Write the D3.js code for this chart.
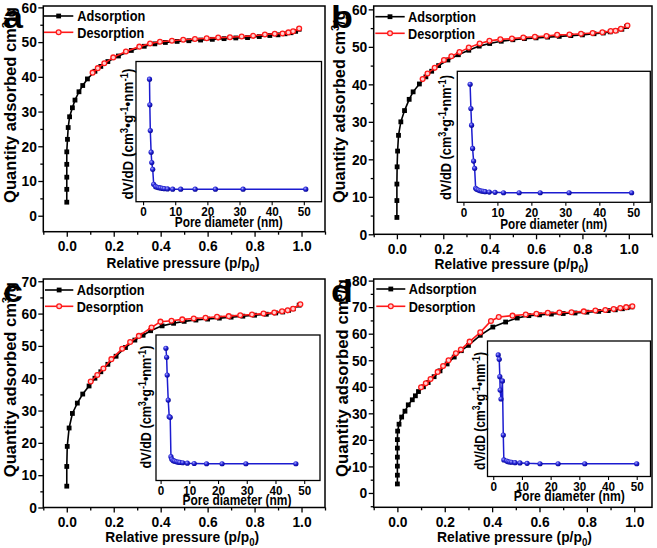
<!DOCTYPE html>
<html><head><meta charset="utf-8">
<script src="https://cdn.jsdelivr.net/npm/d3@7"></script>
<style>
body{margin:0;background:#fff}
svg{display:block}
text{font-family:"Liberation Sans",Arial,sans-serif;font-weight:bold;fill:#000}
</style>
</head><body>
<svg id="chart" width="657" height="548"></svg>
<script>
// ---------------- DATA ----------------
// Panel a
const adsA_p = [0,0,0,0,0,0.003,0.006,0.012,0.024,0.035,0.052,0.068,0.088,0.12,0.145,0.175,0.22,0.275,0.33,0.375,0.42,0.47,0.52,0.57,0.62,0.67,0.72,0.77,0.82,0.865,0.9,0.93,0.955,0.975,0.99];
const adsA_q = [3.9,7.6,11.1,14.8,18.4,22.0,25.4,28.5,31.1,33.3,35.7,37.5,39.4,41.6,43.0,44.4,46.0,47.6,48.8,49.5,49.9,50.2,50.4,50.6,50.8,51.0,51.2,51.3,51.6,51.9,52.1,52.4,52.7,53.1,53.7];
const desA_p = [0.11,0.132,0.16,0.198,0.252,0.309,0.355,0.397,0.448,0.496,0.546,0.596,0.645,0.695,0.745,0.794,0.844,0.886,0.919,0.944,0.964,0.99];
const desA_q = [41.2,42.5,43.9,45.6,47.3,48.7,49.6,50.1,50.4,50.7,50.9,51.1,51.3,51.4,51.6,51.8,52.2,52.4,52.5,52.8,53.1,53.9];
const psdA_d = [2.0,2.1,2.25,2.5,2.7,3.0,3.3,3.9,4.4,4.9,5.4,6.0,6.6,7.6,9.2,11.7,16.2,22.5,31.1,50.6];
const psdA_v = [0.874,0.691,0.507,0.353,0.279,0.231,0.124,0.107,0.103,0.100,0.098,0.095,0.093,0.091,0.089,0.089,0.089,0.089,0.089,0.089];
// Panel b
const adsB_p = [0,0,0,0.001,0.003,0.007,0.017,0.033,0.053,0.07,0.097,0.125,0.15,0.18,0.22,0.265,0.31,0.355,0.4,0.45,0.5,0.55,0.6,0.65,0.7,0.75,0.8,0.85,0.89,0.92,0.945,0.97,0.99];
const adsB_q = [4.5,9.0,13.4,18.0,22.2,26.4,30.0,33.0,36.0,38.0,40.1,42.0,43.5,45.0,46.5,47.9,49.1,50.2,50.9,51.5,51.9,52.2,52.4,52.6,52.8,53.0,53.2,53.5,53.7,54.0,54.3,54.7,55.4];
const desB_p = [0.111,0.132,0.163,0.203,0.235,0.27,0.31,0.357,0.399,0.446,0.496,0.545,0.595,0.645,0.691,0.744,0.794,0.844,0.886,0.922,0.943,0.966,0.994];
const desB_q = [41.4,42.9,44.4,46.5,47.5,48.6,49.8,50.9,51.6,52.0,52.2,52.5,52.7,52.9,53.2,53.3,53.5,53.7,53.9,54.2,54.3,54.8,55.7];
const psdB_d = [1.97,2.2,2.4,2.7,3.0,3.3,3.6,3.9,4.4,4.9,5.4,5.9,6.4,7.6,9.3,11.8,16.4,22.6,31.1,49.5];
const psdB_v = [0.901,0.716,0.589,0.411,0.315,0.259,0.107,0.099,0.094,0.088,0.086,0.084,0.081,0.078,0.076,0.073,0.073,0.073,0.073,0.073];
// Panel c
const adsC_p = [0,0,0.002,0.01,0.024,0.045,0.068,0.095,0.12,0.145,0.175,0.21,0.25,0.29,0.325,0.357,0.406,0.455,0.5,0.55,0.6,0.65,0.7,0.75,0.8,0.85,0.89,0.92,0.945,0.965,0.99];
const adsC_q = [6.6,12.7,18.9,24.6,29.1,32.3,35.1,37.6,40.0,42.0,44.3,46.8,49.5,51.8,53.3,54.7,56.2,57.0,57.6,58.0,58.3,58.6,58.9,59.2,59.5,59.8,60.2,60.5,61.0,61.5,62.6];
const desC_p = [0.102,0.13,0.156,0.19,0.236,0.27,0.307,0.361,0.399,0.446,0.492,0.541,0.591,0.64,0.69,0.739,0.789,0.838,0.884,0.917,0.941,0.964,0.995];
const desC_q = [39.0,41.0,43.0,45.9,49.1,51.2,53.1,55.7,57.5,57.8,58.2,58.5,58.7,59.0,59.2,59.5,59.7,60.0,60.3,60.7,61.0,61.5,62.9];
const psdC_d = [1.85,2.1,2.3,2.65,3.0,3.35,3.6,3.9,4.4,4.9,5.5,6.1,6.7,7.7,9.3,11.7,16.0,21.4,29.7,47.1];
const psdC_v = [0.909,0.847,0.725,0.553,0.439,0.434,0.164,0.146,0.136,0.133,0.129,0.126,0.124,0.122,0.119,0.117,0.115,0.115,0.115,0.115];
// Panel d
const adsD_p = [0,0,0,0,0,0,0.001,0.007,0.018,0.032,0.046,0.063,0.076,0.089,0.11,0.13,0.155,0.18,0.21,0.24,0.27,0.3,0.35,0.403,0.457,0.506,0.555,0.6,0.65,0.7,0.75,0.8,0.85,0.89,0.92,0.95,0.97,0.99];
const adsD_q = [3.4,6.7,10.1,13.5,16.9,20.1,23.3,25.9,28.6,30.8,33.2,35.1,36.6,38.2,40.0,41.6,43.8,46.0,48.6,51.2,53.6,55.6,59.4,62.5,64.4,65.9,66.8,67.1,67.4,67.6,67.8,68.1,68.4,68.7,69.0,69.4,69.8,70.1];
const desD_p = [0.10,0.12,0.14,0.17,0.193,0.216,0.247,0.268,0.305,0.35,0.395,0.428,0.486,0.542,0.587,0.635,0.684,0.735,0.787,0.836,0.878,0.913,0.941,0.966,0.992];
const desD_q = [39.8,41.3,42.9,45.6,47.8,50.0,52.6,54.0,57.0,60.5,64.8,66.3,66.8,67.2,67.5,67.9,68.0,68.1,68.4,68.7,68.9,69.3,69.7,70.0,70.3];
const psdD_d = [1.74,2.09,2.3,2.4,2.7,3.2,3.5,3.7,4.7,5.2,5.8,6.4,7.6,9.3,11.8,16.3,22.6,31.9,50.0];
const psdD_v = [0.897,0.865,0.737,0.638,0.572,0.705,0.306,0.122,0.114,0.109,0.107,0.105,0.102,0.100,0.097,0.094,0.094,0.094,0.094];

// Tick labels
const xMajorTicks = [0,0.2,0.4,0.6,0.8,1.0];
const xMinorTicks = [-0.1,0.1,0.3,0.5,0.7,0.9,1.1];
const yTicksA = [0,10,20,30,40,50,60];
const yTicksB = [0,10,20,30,40,50,60];
const yTicksC = [0,10,20,30,40,50,60,70];
const yTicksD = [0,10,20,30,40,50,60,70,80];
const insetTicks = [0,10,20,30,40,50];
const legendLabels = ["Adsorption","Desorption"];
const panelLetters = ["a","b","c","d"];

// ---------------- LAYOUT ----------------
const panels = [
 {letter:panelLetters[0], ads:[adsA_p,adsA_q], des:[desA_p,desA_q], psd:[psdA_d,psdA_v], yTicks:yTicksA,
  frame:{x0:43.3,x1:325,y0:6,y1:231.7}, xd:[-0.1,1.1], yd:[-4.6,60.4],
  inset:{x0:136,x1:321.5,y0:61.5,y1:201.7}, ixd:[-2.2,55.5],
  letterPos:[3,27.5], leg:{x0:44,x1:73.3,tx:77.3,y1:16,y2:32.3},
  xTitle:[183,268,153], yTitle:[16,105,196], ixTitle:[228.8,227,108], iyTitle:[132.5,134,131]},
 {letter:panelLetters[1], ads:[adsB_p,adsB_q], des:[desB_p,desB_q], psd:[psdB_d,psdB_v], yTicks:yTicksB,
  frame:{x0:373.7,x1:652,y0:6,y1:234.3}, xd:[-0.1,1.1], yd:[0,60.9],
  inset:{x0:457.3,x1:650.3,y0:71.3,y1:202.3}, ixd:[-1.8,55],
  letterPos:[331,27.5], leg:{x0:375.3,x1:404.7,tx:408,y1:16.7,y2:33.3},
  xTitle:[511.5,269,154], yTitle:[345,106.7,193], ixTitle:[553.7,228.5,107], iyTitle:[451,137.5,125]},
 {letter:panelLetters[2], ads:[adsC_p,adsC_q], des:[desC_p,desC_q], psd:[psdC_d,psdC_v], yTicks:yTicksC,
  frame:{x0:43.3,x1:325,y0:279,y1:507.5}, xd:[-0.1,1.1], yd:[0,70.7],
  inset:{x0:156,x1:320,y0:335,y1:480.5}, ixd:[-1.6,55.5],
  letterPos:[3,301.5], leg:{x0:45,x1:73.3,tx:76.7,y1:290,y2:306.3},
  xTitle:[182.2,542,154], yTitle:[15.5,379.7,195], ixTitle:[237,504.5,109], iyTitle:[151,407,123]},
 {letter:panelLetters[3], ads:[adsD_p,adsD_q], des:[desD_p,desD_q], psd:[psdD_d,psdD_v], yTicks:yTicksD,
  frame:{x0:373.7,x1:652,y0:279,y1:507.3}, xd:[-0.1,1.075], yd:[-5.4,80.6],
  inset:{x0:487.5,x1:650.5,y0:341,y1:476.5}, ixd:[-2.0,54.8],
  letterPos:[331,301.5], leg:{x0:376.3,x1:405.3,tx:408.7,y1:289,y2:306.3},
  xTitle:[514.5,542,155], yTitle:[347.5,378,198], ixTitle:[569.3,501,111], iyTitle:[484.5,411,118]}
];

const BLACK="#000000", RED="#ff1a1a", BLUE="#1c1cd0";
const svg = d3.select("#chart");
const defs = svg.append("defs");
const grad = defs.append("radialGradient").attr("id","ball").attr("cx","38%").attr("cy","35%").attr("r","70%");
grad.append("stop").attr("offset","0%").attr("stop-color","#a8a8ff");
grad.append("stop").attr("offset","45%").attr("stop-color","#2828d8");
grad.append("stop").attr("offset","100%").attr("stop-color","#00008c");

function fit(sel, x, y, len, rot){
  const n = sel.node();
  const L = n.getComputedTextLength();
  const k = len / L;
  sel.attr("transform", `translate(${x},${y}) rotate(${rot||0}) scale(${k},1)`);
}

function styleAxis(g, fs){
  g.attr("font-family",'"Liberation Sans",Arial,sans-serif').attr("font-weight","bold").attr("font-size",fs);
  g.select(".domain").remove();
  g.selectAll(".tick line").attr("stroke","#000").attr("stroke-width",1.3);
}

panels.forEach(p=>{
  const g = svg.append("g");
  const f = p.frame;
  const x = d3.scaleLinear().domain(p.xd).range([f.x0,f.x1]);
  const y = d3.scaleLinear().domain(p.yd).range([f.y1,f.y0]);
  const inD = (v,d)=> v>=d[0]-1e-9 && v<=d[1]+1e-9;

  // axes - minor
  g.append("g").attr("transform",`translate(0,${f.y1})`)
   .call(d3.axisBottom(x).tickValues(xMinorTicks.filter(v=>inD(v,p.xd))).tickSize(3).tickFormat(""))
   .call(s=>styleAxis(s,15));
  const yMinor = p.yTicks.slice(0,-1).map(v=>v+5).concat([p.yTicks[0]-5]).filter(v=>inD(v,p.yd));
  g.append("g").attr("transform",`translate(${f.x0},0)`)
   .call(d3.axisLeft(y).tickValues(yMinor).tickSize(3).tickFormat(""))
   .call(s=>styleAxis(s,15));
  // axes - major
  const xa = g.append("g").attr("transform",`translate(0,${f.y1})`)
   .call(d3.axisBottom(x).tickValues(xMajorTicks).tickSize(5).tickPadding(4).tickFormat(d3.format(".1f")))
   .call(s=>styleAxis(s,15));
  xa.selectAll(".tick text").attr("transform","scale(0.92,1)");
  const ya = g.append("g").attr("transform",`translate(${f.x0},0)`)
   .call(d3.axisLeft(y).tickValues(p.yTicks).tickSize(5).tickPadding(2).tickFormat(d3.format("d")))
   .call(s=>styleAxis(s,15));
  ya.selectAll(".tick text").attr("transform","scale(0.92,1)");

  // frame
  g.append("rect").attr("x",f.x0).attr("y",f.y0).attr("width",f.x1-f.x0).attr("height",f.y1-f.y0)
   .attr("fill","none").attr("stroke","#000").attr("stroke-width",1.5);

  // data
  const ads = p.ads[0].map((v,i)=>[v,p.ads[1][i]]);
  const des = p.des[0].map((v,i)=>[v,p.des[1][i]]);
  const line = d3.line().x(d=>x(d[0])).y(d=>y(d[1]));
  g.append("path").attr("d",line(ads)).attr("fill","none").attr("stroke",BLACK).attr("stroke-width",1.6);
  g.selectAll(null).data(ads).join("rect")
   .attr("x",d=>x(d[0])-2.4).attr("y",d=>y(d[1])-2.4).attr("width",4.8).attr("height",4.8).attr("fill",BLACK);
  g.append("path").attr("d",line(des)).attr("fill","none").attr("stroke",RED).attr("stroke-width",1.6);
  g.selectAll(null).data(des).join("circle")
   .attr("cx",d=>x(d[0])).attr("cy",d=>y(d[1])).attr("r",2.4).attr("fill","#ffd0d0").attr("stroke",RED).attr("stroke-width",1.3);

  // legend
  const L = p.leg;
  const mx = (L.x0+L.x1)/2;
  g.append("line").attr("x1",L.x0).attr("x2",L.x1).attr("y1",L.y1).attr("y2",L.y1).attr("stroke",BLACK).attr("stroke-width",1.6);
  g.append("rect").attr("x",mx-2.4).attr("y",L.y1-2.4).attr("width",4.8).attr("height",4.8).attr("fill",BLACK);
  g.append("line").attr("x1",L.x0).attr("x2",L.x1).attr("y1",L.y2).attr("y2",L.y2).attr("stroke",RED).attr("stroke-width",1.6);
  g.append("circle").attr("cx",mx).attr("cy",L.y2).attr("r",2.4).attr("fill","#ffd0d0").attr("stroke",RED).attr("stroke-width",1.3);
  const t1 = g.append("text").attr("font-size",15).attr("dy","0.36em").text(legendLabels[0]);
  fit(t1,L.tx,L.y1,68);
  const t2 = g.append("text").attr("font-size",15).attr("dy","0.36em").text(legendLabels[1]);
  fit(t2,L.tx,L.y2,67);

  // panel letter
  g.append("text").attr("font-size",32).attr("transform",`translate(${p.letterPos[0]},${p.letterPos[1]}) scale(1.12,1)`).text(p.letter);

  // axis titles
  const xt = g.append("text").attr("font-size",15).attr("text-anchor","middle");
  xt.append("tspan").text("Relative pressure (p/p");
  xt.append("tspan").attr("font-size",10.5).attr("dy",4).text("0");
  xt.append("tspan").attr("dy",-4).text(")");
  fit(xt,p.xTitle[0],p.xTitle[1],p.xTitle[2]);
  const yt = g.append("text").attr("font-size",16).attr("text-anchor","middle");
  yt.append("tspan").text("Quantity adsorbed cm");
  yt.append("tspan").attr("font-size",11).attr("dy",-6).text("3");
  yt.append("tspan").attr("dy",6).text("/g");
  fit(yt,p.yTitle[0],p.yTitle[1],p.yTitle[2],-90);

  // inset
  const I = p.inset;
  const ix = d3.scaleLinear().domain(p.ixd).range([I.x0,I.x1]);
  const iy = d3.scaleLinear().domain([0,1]).range([I.y1,I.y0]);
  g.append("rect").attr("x",I.x0).attr("y",I.y0).attr("width",I.x1-I.x0).attr("height",I.y1-I.y0)
   .attr("fill","#fff").attr("stroke","#000").attr("stroke-width",1.3);
  const ia = g.append("g").attr("transform",`translate(0,${I.y1})`)
   .call(d3.axisBottom(ix).tickValues(insetTicks).tickSize(3.5).tickPadding(1.5).tickFormat(d3.format("d")))
   .call(s=>styleAxis(s,13));
  ia.selectAll(".tick text").attr("transform","scale(0.9,1)");
  ia.selectAll(".tick line").attr("stroke-width",1.1);
  const psd = p.psd[0].map((v,i)=>[v,p.psd[1][i]]);
  const iline = d3.line().x(d=>ix(d[0])).y(d=>iy(d[1]));
  g.append("path").attr("d",iline(psd)).attr("fill","none").attr("stroke",BLUE).attr("stroke-width",1.5);
  g.selectAll(null).data(psd).join("circle")
   .attr("cx",d=>ix(d[0])).attr("cy",d=>iy(d[1])).attr("r",2.6).attr("fill","url(#ball)");
  const ixt = g.append("text").attr("font-size",15).attr("text-anchor","middle").text("Pore diameter (nm)");
  fit(ixt,p.ixTitle[0],p.ixTitle[1],p.ixTitle[2]);
  const iyt = g.append("text").attr("font-size",14).attr("text-anchor","middle");
  iyt.append("tspan").text("dV/dD (cm");
  iyt.append("tspan").attr("font-size",10).attr("dy",-5).text("3");
  iyt.append("tspan").attr("dy",5).text("•g");
  iyt.append("tspan").attr("font-size",10).attr("dy",-5).text("-1");
  iyt.append("tspan").attr("dy",5).text("•nm");
  iyt.append("tspan").attr("font-size",10).attr("dy",-5).text("-1");
  iyt.append("tspan").attr("dy",5).text(")");
  fit(iyt,p.iyTitle[0],p.iyTitle[1],p.iyTitle[2],-90);
});
</script>
</body></html>
